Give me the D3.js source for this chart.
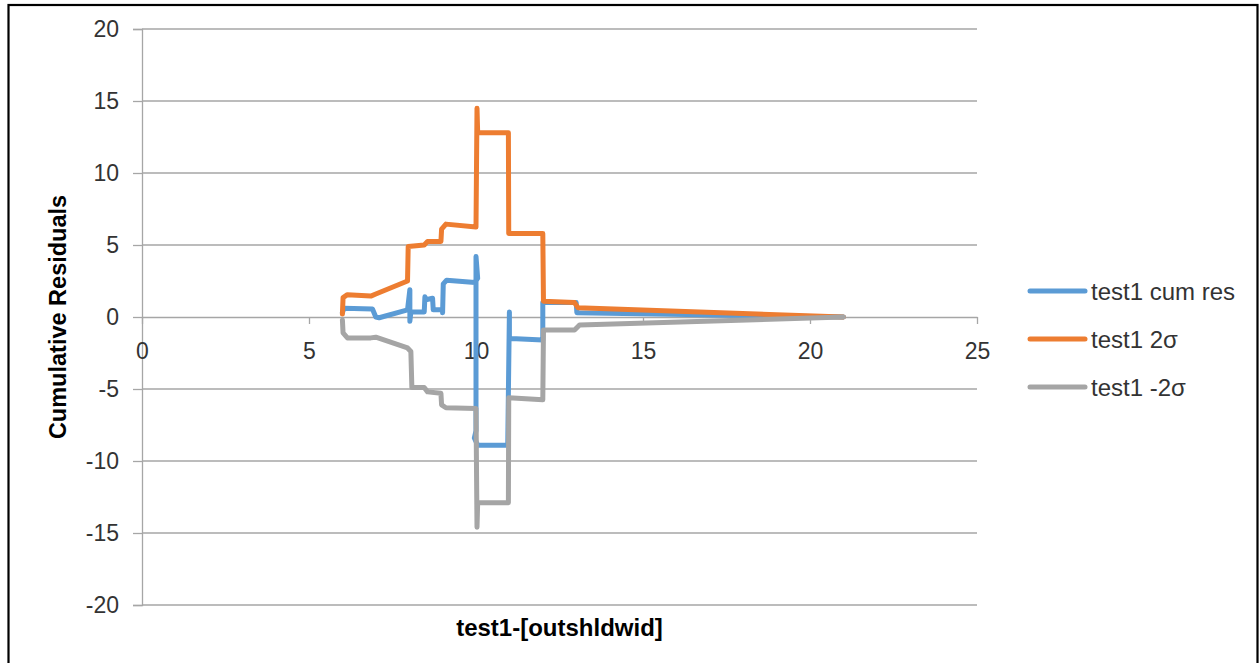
<!DOCTYPE html>
<html>
<head>
<meta charset="utf-8">
<script src="https://cdn.jsdelivr.net/npm/d3@7"></script>
<style>
  body { margin: 0; background: #fff; }
  svg { display: block; font-family: 'Liberation Sans', Arial, sans-serif; }
</style>
</head>
<body>
<svg id="chart"></svg>
<script>
const width = 1259
const height = 663
const margin = { top: 29, right: 282, bottom: 58, left: 142 }

const xTicks = [0, 5, 10, 15, 20, 25]
const yTicks = [-20, -15, -10, -5, 0, 5, 10, 15, 20]

const seriesNames = ['test1 cum res', 'test1 2σ', 'test1 -2σ']
const seriesColors = ['#5b9bd5', '#ed7d31', '#a5a5a5']

// test1 cum res
const cumResX = [6, 6.05, 6.9, 7, 7.1, 7.95, 8.02, 8.02, 8.05, 8.45, 8.47, 8.5, 8.7, 8.72, 9, 9, 9.02, 9.12, 9.97, 10.05, 10, 10, 9.95, 10.05, 10.95, 11, 11, 11.05, 12, 12, 13, 13.02, 21]
const cumResY = [0.3, 0.6, 0.55, 0, -0.05, 0.5, 1.9, -0.3, 0.35, 0.35, 1.4, 1.2, 1.3, 0.5, 0.5, 0.3, 2.3, 2.55, 2.4, 2.7, 4.2, -7.9, -8.4, -8.9, -8.9, 0.35, -1.4, -1.5, -1.6, 1, 1, 0.3, 0]

// test1 2σ
const sigPlusX = [6, 6.02, 6.15, 6.85, 7, 7.95, 7.97, 8.45, 8.55, 8.95, 8.97, 9.1, 10, 10.03, 10.05, 10.97, 10.98, 12, 12.02, 12.95, 13.05, 21]
const sigPlusY = [0.2, 1.35, 1.55, 1.45, 1.6, 2.5, 4.9, 5, 5.25, 5.25, 6.1, 6.45, 6.25, 14.5, 12.8, 12.8, 5.8, 5.8, 1.1, 1, 0.65, 0]

// test1 -2σ
const sigMinusX = [6, 6.02, 6.15, 6.85, 7, 7.95, 8.05, 8.08, 8.45, 8.55, 8.95, 8.97, 9.1, 10, 10.03, 10.05, 10.97, 10.98, 12, 12.02, 12.95, 13.1, 21]
const sigMinusY = [-0.2, -1.1, -1.45, -1.45, -1.4, -2.15, -2.4, -4.9, -4.9, -5.2, -5.3, -6.1, -6.3, -6.35, -14.6, -12.9, -12.9, -5.6, -5.75, -0.9, -0.9, -0.55, 0]

const series = [
  { name: seriesNames[0], color: seriesColors[0], pts: d3.zip(cumResX, cumResY) },
  { name: seriesNames[1], color: seriesColors[1], pts: d3.zip(sigPlusX, sigPlusY) },
  { name: seriesNames[2], color: seriesColors[2], pts: d3.zip(sigMinusX, sigMinusY) }
]

const svg = d3.select('#chart').attr('width', width).attr('height', height)

// outer frame
svg.append('rect')
  .attr('x', 8.5).attr('y', 5)
  .attr('width', 1249).attr('height', 700)
  .attr('fill', 'none')
  .attr('stroke', '#000')
  .attr('stroke-width', 2.2)

const x = d3.scaleLinear().domain([0, 25]).range([margin.left, width - margin.right])
const y = d3.scaleLinear().domain([-20, 20]).range([height - margin.bottom, margin.top])

// plain hyphen minus like the original
const fmt = d => String(d)

// gridlines
svg.append('g')
  .attr('class', 'grid')
  .selectAll('line')
  .data(yTicks.filter(d => d !== 0))
  .enter().append('line')
  .attr('x1', x(0)).attr('x2', x(25))
  .attr('y1', d => y(d)).attr('y2', d => y(d))
  .attr('stroke', '#a6a6a6')
  .attr('stroke-width', 1.3)

// y axis
const yAxis = svg.append('g')
  .attr('transform', `translate(${x(0)},0)`)
  .call(d3.axisLeft(y).tickValues(yTicks).tickSize(9).tickPadding(14).tickFormat(fmt))
yAxis.select('.domain').attr('stroke', '#a6a6a6').attr('stroke-width', 1.3)
yAxis.selectAll('.tick line').attr('stroke', '#a6a6a6').attr('stroke-width', 1.3)
yAxis.selectAll('.tick text').attr('fill', '#333').style('font-size', '23px')

// x axis at y = 0
const xAxis = svg.append('g')
  .attr('transform', `translate(0,${y(0)})`)
  .call(d3.axisBottom(x).tickValues(xTicks).tickSize(7).tickSizeOuter(0).tickPadding(19).tickFormat(fmt))
xAxis.select('.domain').attr('stroke', '#a6a6a6').attr('stroke-width', 1.3)
xAxis.selectAll('.tick line').attr('stroke', '#a6a6a6').attr('stroke-width', 1.3)
xAxis.selectAll('.tick text').attr('fill', '#333').style('font-size', '23px')

// series
const line = d3.line().x(d => x(d[0])).y(d => y(d[1]))

svg.append('g')
  .attr('class', 'series')
  .selectAll('path')
  .data(series)
  .enter().append('path')
  .attr('d', d => line(d.pts))
  .attr('fill', 'none')
  .attr('stroke', d => d.color)
  .attr('stroke-width', 5)
  .attr('stroke-linejoin', 'round')
  .attr('stroke-linecap', 'round')

// axis titles
svg.append('text')
  .attr('transform', `translate(58,${y(0)}) rotate(-90)`)
  .attr('text-anchor', 'middle')
  .attr('dominant-baseline', 'central')
  .attr('font-weight', 'bold')
  .style('font-size', '23.5px')
  .attr('fill', '#000')
  .text('Cumulative Residuals')

svg.append('text')
  .attr('x', (x(0) + x(25)) / 2)
  .attr('y', 636)
  .attr('text-anchor', 'middle')
  .attr('font-weight', 'bold')
  .style('font-size', '24px')
  .attr('fill', '#000')
  .text('test1-[outshldwid]')

// legend
const legend = svg.append('g')
  .attr('class', 'legend')
  .selectAll('g')
  .data(series)
  .enter().append('g')
  .attr('transform', (d, i) => `translate(1030,${291 + i * 48})`)

legend.append('line')
  .attr('x1', 0).attr('x2', 55)
  .attr('stroke', d => d.color)
  .attr('stroke-width', 5)
  .attr('stroke-linecap', 'round')

legend.append('text')
  .attr('x', 61)
  .attr('dominant-baseline', 'central')
  .style('font-size', '24px')
  .attr('fill', '#333')
  .text(d => d.name)
</script>
</body>
</html>
